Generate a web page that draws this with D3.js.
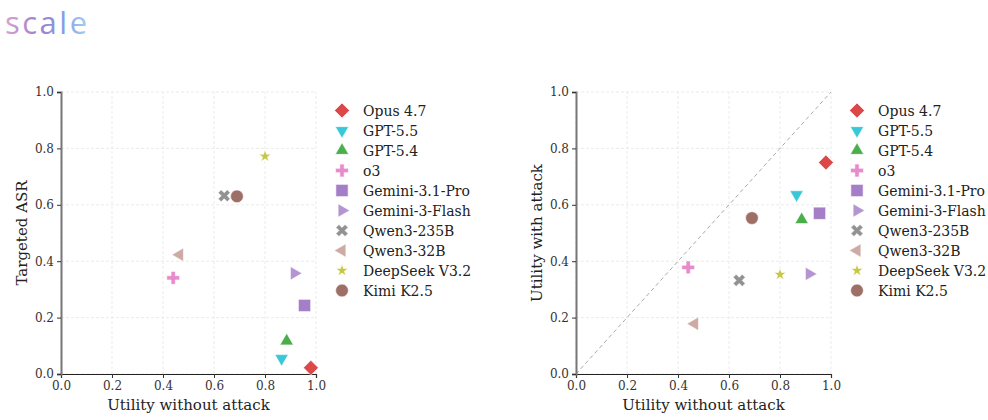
<!DOCTYPE html>
<html>
<head>
<meta charset="utf-8">
<script src="https://cdn.jsdelivr.net/npm/d3@7"></script>
<style>
  body { margin: 0; background: #fff; }
  text { font-family: "DejaVu Serif", serif; }
</style>
</head>
<body>
<div id="chart"></div>
<script>
// model names and values
var models = ['Opus 4.7', 'GPT-5.5', 'GPT-5.4', 'o3', 'Gemini-3.1-Pro', 'Gemini-3-Flash',
              'Qwen3-235B', 'Qwen3-32B', 'DeepSeek V3.2', 'Kimi K2.5'];
var utilityNoAttack = [0.98, 0.865, 0.885, 0.44, 0.955, 0.915, 0.64, 0.465, 0.80, 0.69];
var targetedASR     = [0.022, 0.055, 0.117, 0.341, 0.243, 0.357, 0.632, 0.423, 0.772, 0.630];
var utilityAttack   = [0.75, 0.636, 0.547, 0.378, 0.570, 0.355, 0.332, 0.178, 0.353, 0.553];
var ticks = [0, 0.2, 0.4, 0.6, 0.8, 1.0];

var colors = ['#d62728', '#17becf', '#2ca02c', '#e377c2', '#9467bd', '#9467bd',
              '#7f7f7f', '#c49c94', '#bcbd22', '#8c564b'];
var shapes = ['D', 'v', '^', 'P', 's', '>', 'X', '<', '*', 'o'];

var W = 988, H = 420;
var svg = d3.select('#chart').append('svg')
    .attr('width', W).attr('height', H);

// logo
var defs = svg.append('defs');
var grad = defs.append('linearGradient').attr('id', 'logoGrad')
    .attr('gradientUnits', 'userSpaceOnUse')
    .attr('x1', 6).attr('x2', 95).attr('y1', 0).attr('y2', 0);
grad.append('stop').attr('offset', '0%').attr('stop-color', '#d3a3cf');
grad.append('stop').attr('offset', '35%').attr('stop-color', '#a67fcc');
grad.append('stop').attr('offset', '62%').attr('stop-color', '#7f9be6');
grad.append('stop').attr('offset', '100%').attr('stop-color', '#b4dcf5');
svg.append('text')
    .attr('x', 5).attr('y', 34)
    .style('font-family', '"Open Sans", sans-serif')
    .style('font-weight', 400)
    .style('font-size', '31px')
    .style('letter-spacing', '2.5px')
    .attr('fill', 'url(#logoGrad)')
    .text('scale');

// marker paths
function markerPath(shape) {
  var sym = d3.symbol();
  switch (shape) {
    case 'D': return { d: sym.type(d3.symbolSquare).size(112)(), rot: 45 };
    case 'v': return { d: sym.type(d3.symbolTriangle).size(78)(), rot: 180 };
    case '^': return { d: sym.type(d3.symbolTriangle).size(78)(), rot: 0 };
    case '<': return { d: sym.type(d3.symbolTriangle).size(78)(), rot: -90 };
    case '>': return { d: sym.type(d3.symbolTriangle).size(78)(), rot: 90 };
    case 'P': return { d: sym.type(d3.symbolCross).size(92)(), rot: 0 };
    case 'X': return { d: sym.type(d3.symbolCross).size(92)(), rot: 45 };
    case 's': return { d: sym.type(d3.symbolSquare).size(150)(), rot: 0 };
    case '*': return { d: sym.type(d3.symbolStar).size(48)(), rot: 0 };
    default:  return { d: sym.type(d3.symbolCircle).size(128)(), rot: 0 };
  }
}

function drawPanel(opt) {
  var x = d3.scaleLinear().domain([0, 1]).range([opt.left, opt.left + 255]);
  var y = d3.scaleLinear().domain([0, 1]).range([374, 92]);
  var g = svg.append('g');

  // grid
  g.selectAll('.gx').data(ticks).enter().append('line')
      .attr('x1', d => x(d)).attr('x2', d => x(d))
      .attr('y1', y(0)).attr('y2', y(1))
      .attr('stroke', '#e6e6e6').attr('stroke-width', 0.8)
      .attr('stroke-dasharray', '3 2');
  g.selectAll('.gy').data(ticks).enter().append('line')
      .attr('y1', d => y(d)).attr('y2', d => y(d))
      .attr('x1', x(0)).attr('x2', x(1))
      .attr('stroke', '#e6e6e6').attr('stroke-width', 0.8)
      .attr('stroke-dasharray', '3 2');

  if (opt.diagonal) {
    g.append('line')
        .attr('x1', x(0)).attr('y1', y(0)).attr('x2', x(1)).attr('y2', y(1))
        .attr('stroke', '#aaaaaa').attr('stroke-width', 1)
        .attr('stroke-dasharray', '4 3');
  }

  // axes
  var xa = g.append('g').attr('transform', 'translate(0,' + y(0) + ')')
      .call(d3.axisBottom(x).tickValues(ticks).tickFormat(d3.format('.1f')).tickSize(4).tickPadding(3));
  var ya = g.append('g').attr('transform', 'translate(' + x(0) + ',0)')
      .call(d3.axisLeft(y).tickValues(ticks).tickFormat(d3.format('.1f')).tickSize(4).tickPadding(3));
  [xa, ya].forEach(function (a) {
    a.selectAll('text').style('font-family', '"DejaVu Serif", serif')
        .style('font-size', '12px').attr('fill', '#333');
    a.selectAll('.tick line').attr('stroke', '#333');
  });
  xa.select('.domain').attr('stroke', '#222').attr('stroke-width', 1.2);
  ya.select('.domain').attr('stroke', '#777').attr('stroke-width', 2);

  g.append('text')
      .attr('x', (x(0) + x(1)) / 2).attr('y', 410)
      .attr('text-anchor', 'middle')
      .style('font-size', '15px').attr('fill', '#222')
      .text('Utility without attack');
  g.append('text')
      .attr('transform', 'translate(' + (opt.left - 34) + ',' + ((y(0) + y(1)) / 2) + ') rotate(-90)')
      .attr('text-anchor', 'middle')
      .style('font-size', '15px').attr('fill', '#222')
      .text(opt.ylabel);

  // points
  models.forEach(function (m, i) {
    var mk = markerPath(shapes[i]);
    g.append('path')
        .attr('d', mk.d)
        .attr('transform', 'translate(' + x(utilityNoAttack[i]) + ',' + y(opt.values[i]) + ') rotate(' + mk.rot + ')')
        .attr('fill', colors[i])
        .attr('fill-opacity', shapes[i] === '>' ? 0.7 : 0.85)
        .attr('stroke', '#fff').attr('stroke-width', 0.6);
  });

  // legend
  var lg = g.append('g');
  models.forEach(function (m, i) {
    var ly = 110.5 + i * 20;
    var mk = markerPath(shapes[i]);
    lg.append('path')
        .attr('d', mk.d)
        .attr('transform', 'translate(' + opt.legendX + ',' + ly + ') rotate(' + mk.rot + ')')
        .attr('fill', colors[i])
        .attr('fill-opacity', shapes[i] === '>' ? 0.7 : 0.85)
        .attr('stroke', '#fff').attr('stroke-width', 0.6);
    lg.append('text')
        .attr('x', opt.legendX + 21).attr('y', ly + 5)
        .style('font-size', '14px').attr('fill', '#222')
        .text(m);
  });
}

drawPanel({ left: 61, ylabel: 'Targeted ASR', values: targetedASR, legendX: 342, diagonal: false });
drawPanel({ left: 576, ylabel: 'Utility with attack', values: utilityAttack, legendX: 857, diagonal: true });
</script>
</body>
</html>
